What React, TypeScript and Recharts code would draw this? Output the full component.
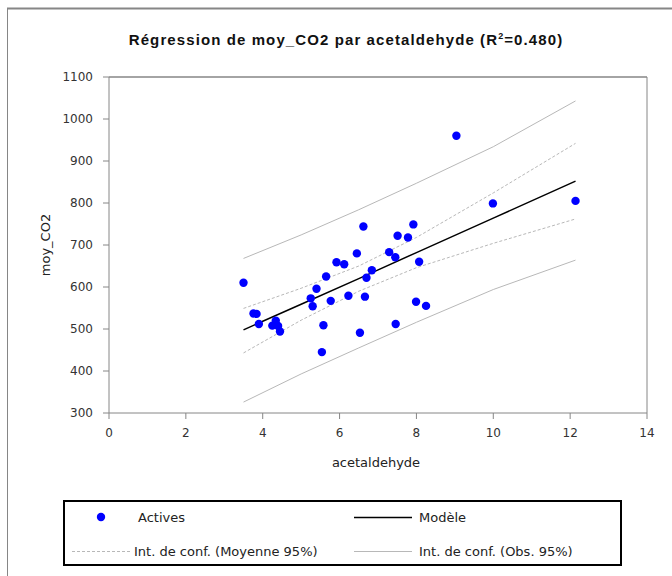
import React from "react";
import {
  ScatterChart,
  Scatter,
  XAxis,
  YAxis,
  ReferenceLine,
} from "recharts";

// observations (acetaldehyde, moy_CO2)
const activesX = [
  3.5, 3.76, 3.84, 3.9, 4.25, 4.34, 4.4, 4.45, 5.25, 5.3, 5.4, 5.54, 5.58,
  5.65, 5.77, 5.92, 6.12, 6.23, 6.45, 6.53, 6.62, 6.66, 6.7, 6.84, 7.29, 7.45,
  7.46, 7.51, 7.78, 7.92, 7.99, 8.07, 8.25, 9.04, 9.99, 12.14,
];
const activesY = [
  610, 537, 536, 512, 508, 520, 507, 494, 573, 554, 596, 445, 509, 625, 567,
  659, 654, 579, 680, 491, 744, 577, 622, 640, 683, 671, 512, 722, 718, 749,
  565, 660, 555, 960, 799, 805,
];

// regression line and bands, read at a few x positions
const curveX = [3.5, 5, 6.5, 8, 10, 12.14];
const modelY = [498, 559, 620, 682, 764, 852];
const meanUpper = [549, 597, 650, 718, 824, 942];
const meanLower = [443, 521, 590, 646, 704, 762];
const obsUpper = [668, 724, 784, 847, 934, 1043];
const obsLower = [326, 393, 455, 516, 594, 664];

const xTicks = [0, 2, 4, 6, 8, 10, 12, 14];
const yTicks = [300, 400, 500, 600, 700, 800, 900, 1000, 1100];

const toPoints = (xs: number[], ys: number[]) =>
  xs.map((x, i) => ({ x, y: ys[i] }));

const actives = toPoints(activesX, activesY);
const model = toPoints(curveX, modelY);
const meanHi = toPoints(curveX, meanUpper);
const meanLo = toPoints(curveX, meanLower);
const obsHi = toPoints(curveX, obsUpper);
const obsLo = toPoints(curveX, obsLower);

const FONT = "DejaVu Sans";
const AXIS = "#868686";
const BAND = "#b8b8b8";

const noDot = () => <g />;

const Dot = (p: any) => <circle cx={p.cx} cy={p.cy} r={4.2} fill="#0000ff" />;

const Overlay = () => (
  <svg
    width={672}
    height={576}
    style={{ position: "absolute", left: 0, top: 0 }}
  >
    {/* outer chart frame */}
    <line x1={7} y1={8.5} x2={672} y2={8.5} stroke={AXIS} strokeWidth={2} />
    <line x1={7.5} y1={8} x2={7.5} y2={576} stroke={AXIS} strokeWidth={1} />

    <text
      x={346}
      y={45}
      textAnchor="middle"
      fontFamily="Liberation Sans"
      fontWeight="bold"
      fontSize={15}
      letterSpacing={1.1}
      fill="#111"
    >
      Régression de moy_CO2 par acetaldehyde (R
      <tspan fontSize={9} dy={-6}>
        2
      </tspan>
      <tspan dy={6}>=0.480)</tspan>
    </text>

    <text
      x={0}
      y={0}
      transform="translate(50,245) rotate(-90)"
      textAnchor="middle"
      fontFamily={FONT}
      fontSize={13}
      fill="#222"
    >
      moy_CO2
    </text>
    <text
      x={376}
      y={467}
      textAnchor="middle"
      fontFamily={FONT}
      fontSize={13}
      fill="#222"
    >
      acetaldehyde
    </text>

    {/* legend */}
    <rect
      x={64}
      y={501}
      width={557}
      height={64}
      fill="#fff"
      stroke="#000"
      strokeWidth={2}
    />
    <circle cx={101} cy={517} r={4.2} fill="#0000ff" />
    <text x={138} y={522} fontFamily={FONT} fontSize={13} fill="#222">
      Actives
    </text>
    <line
      x1={354}
      y1={517.5}
      x2={412}
      y2={517.5}
      stroke="#000"
      strokeWidth={1.3}
    />
    <text x={419} y={522} fontFamily={FONT} fontSize={13} fill="#222">
      Modèle
    </text>
    <line
      x1={72}
      y1={551.5}
      x2={131}
      y2={551.5}
      stroke={BAND}
      strokeDasharray="3 2"
    />
    <text x={134} y={556} fontFamily={FONT} fontSize={13} fill="#222">
      Int. de conf. (Moyenne 95%)
    </text>
    <line x1={354} y1={551.5} x2={412} y2={551.5} stroke={BAND} />
    <text x={419} y={556} fontFamily={FONT} fontSize={13} fill="#222">
      Int. de conf. (Obs. 95%)
    </text>
  </svg>
);

export default function App() {
  return (
    <div
      style={{
        position: "absolute",
        left: 0,
        top: 0,
        width: 672,
        height: 576,
        overflow: "hidden",
        background: "#fff",
      }}
    >
      <Overlay />
      <div style={{ position: "absolute", left: 0, top: 0 }}>
        <ScatterChart
          width={672}
          height={576}
          margin={{ top: 77, right: 25, bottom: 133, left: 0 }}
        >
          <XAxis
            type="number"
            dataKey="x"
            domain={[0, 14]}
            ticks={xTicks}
            allowDataOverflow
            height={30}
            tickSize={6}
            tickMargin={9}
            axisLine={{ stroke: AXIS }}
            tickLine={{ stroke: AXIS }}
            tick={{ fill: "#333", fontSize: 12, fontFamily: FONT }}
          />
          <YAxis
            type="number"
            dataKey="y"
            domain={[300, 1100]}
            ticks={yTicks}
            allowDataOverflow
            width={109}
            tickSize={6}
            tickMargin={10}
            axisLine={{ stroke: AXIS }}
            tickLine={{ stroke: AXIS }}
            tick={{ fill: "#333", fontSize: 12, fontFamily: FONT }}
          />
          <ReferenceLine y={1100} stroke={AXIS} strokeWidth={1.5} />
          <ReferenceLine x={14} stroke={AXIS} strokeWidth={1} />

          <Scatter
            data={obsHi}
            shape={noDot}
            line={{ stroke: BAND, strokeWidth: 1 }}
            isAnimationActive={false}
          />
          <Scatter
            data={obsLo}
            shape={noDot}
            line={{ stroke: BAND, strokeWidth: 1 }}
            isAnimationActive={false}
          />
          <Scatter
            data={meanHi}
            shape={noDot}
            line={{ stroke: BAND, strokeWidth: 1, strokeDasharray: "3 2" }}
            isAnimationActive={false}
          />
          <Scatter
            data={meanLo}
            shape={noDot}
            line={{ stroke: BAND, strokeWidth: 1, strokeDasharray: "3 2" }}
            isAnimationActive={false}
          />
          <Scatter
            data={model}
            shape={noDot}
            line={{ stroke: "#000", strokeWidth: 1.5 }}
            isAnimationActive={false}
          />
          <Scatter data={actives} shape={Dot} isAnimationActive={false} />
        </ScatterChart>
      </div>
    </div>
  );
}
